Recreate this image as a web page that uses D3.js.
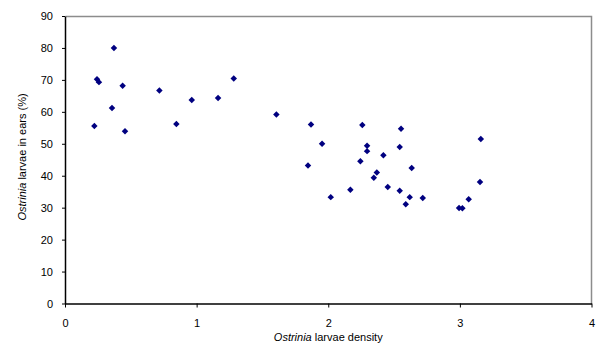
<!DOCTYPE html>
<html>
<head>
<meta charset="utf-8">
<script src="https://cdn.jsdelivr.net/npm/d3@7"></script>
<style>
  body { margin: 0; background: #fff; }
  text { font-family: "Liberation Sans", Arial, sans-serif; }
</style>
</head>
<body>
<div id="chart"></div>
<script>
// larvae density (x) and % larvae in ears (y)
const density = [
    0.372, 0.243, 0.258, 0.438, 0.717, 0.357, 0.223, 0.456, 0.846,
    0.963, 1.163, 1.282, 1.606, 1.869,
    2.259, 2.553, 1.953, 2.295, 2.295, 2.543, 2.419, 1.846, 2.244, 2.634,
    2.369, 2.346, 2.452, 2.168, 2.543, 2.019, 2.619, 2.718, 2.589,
    3.159, 3.153, 3.067, 2.994, 3.019
]
const inEars = [
    80.0, 70.2, 69.3, 68.2, 66.7, 61.2, 55.6, 53.9, 56.2,
    63.7, 64.3, 70.4, 59.2, 56.0,
    55.9, 54.7, 50.0, 49.4, 47.7, 49.0, 46.4, 43.2, 44.5, 42.4,
    41.0, 39.4, 36.5, 35.6, 35.3, 33.3, 33.3, 33.0, 31.1,
    51.5, 38.0, 32.6, 29.9, 29.8
]
const xTicks = [0, 1, 2, 3, 4]
const yTicks = [0, 10, 20, 30, 40, 50, 60, 70, 80, 90]

const dataset = density.map((d, i) => ({ x: d, y: inEars[i] }))

let dimensions = {
    width: 597,
    height: 350,
    margin: { top: 16, right: 5.5, bottom: 46.5, left: 65 },
}
dimensions.boundedWidth = dimensions.width - dimensions.margin.left - dimensions.margin.right
dimensions.boundedHeight = dimensions.height - dimensions.margin.top - dimensions.margin.bottom

const wrapper = d3.select("#chart")
    .append("svg")
    .attr("width", dimensions.width)
    .attr("height", dimensions.height)

const bounds = wrapper.append("g")
    .attr("transform", `translate(${dimensions.margin.left},${dimensions.margin.top})`)

// scales
const xScale = d3.scaleLinear()
    .domain([0, 4])
    .range([0, dimensions.boundedWidth])
const yScale = d3.scaleLinear()
    .domain([0, 90])
    .range([dimensions.boundedHeight, 0])

// plot area border (top / right in grey)
bounds.append("path")
    .attr("d", `M0.5,0.5H${dimensions.boundedWidth}V${dimensions.boundedHeight}`)
    .attr("fill", "none")
    .attr("stroke", "#8c8c8c")
    .attr("stroke-width", 1.5)

// axes
const yAxis = bounds.append("g")
    .call(d3.axisLeft(yScale).tickValues(yTicks).tickFormat(d3.format("d"))
        .tickSize(3).tickPadding(9).tickSizeOuter(0))
const xAxis = bounds.append("g")
    .attr("transform", `translate(0,${dimensions.boundedHeight})`)
    .call(d3.axisBottom(xScale).tickValues(xTicks).tickFormat(d3.format("d"))
        .tickSize(4).tickPadding(12).tickSizeOuter(0))

;[xAxis, yAxis].forEach(a => {
    a.select(".domain").attr("stroke", "#000").attr("stroke-width", 1.5)
    a.selectAll(".tick line").attr("stroke", "#000")
    a.selectAll(".tick text")
        .attr("fill", "#000")
        .attr("font-size", 11)
        .attr("font-family", "Liberation Sans, Arial, sans-serif")
})

// points
bounds.selectAll("path.pt")
    .data(dataset)
    .enter()
    .append("path")
    .attr("class", "pt")
    .attr("d", d3.symbol(d3.symbolSquare, 21)())
    .attr("transform", d => `translate(${xScale(d.x)},${yScale(d.y)}) rotate(45)`)
    .attr("fill", "#000080")

// axis titles
const xLabel = wrapper.append("text")
    .attr("x", dimensions.margin.left + xScale(2))
    .attr("y", 341)
    .attr("text-anchor", "middle")
    .attr("font-size", 11)
    .attr("fill", "#000")
xLabel.append("tspan").attr("font-style", "italic").text("Ostrinia")
xLabel.append("tspan").text(" larvae density")

const yLabel = wrapper.append("text")
    .attr("transform", `translate(26,157) rotate(-90)`)
    .attr("text-anchor", "middle")
    .attr("font-size", 11)
    .attr("fill", "#000")
yLabel.append("tspan").attr("font-style", "italic").text("Ostrinia")
yLabel.append("tspan").text(" larvae in ears (%)")
</script>
</body>
</html>
